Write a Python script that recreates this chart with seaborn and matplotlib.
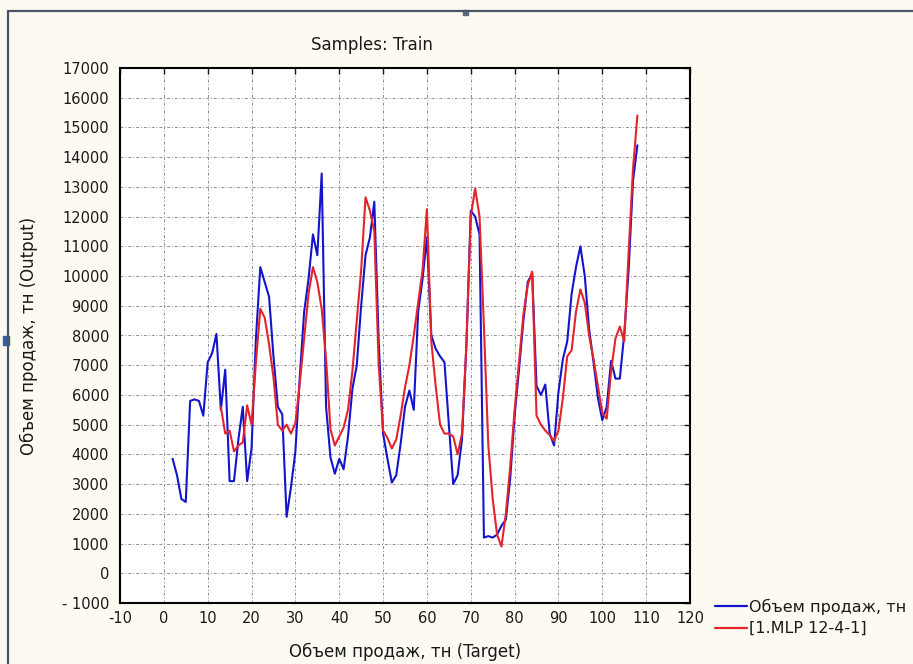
import numpy as np
import pandas as pd
import seaborn as sns
import matplotlib.pyplot as plt
from matplotlib.lines import Line2D
from matplotlib.patches import Rectangle

# Case numbers and sales volumes (tonnes)
case_target = list(range(2, 109))
target = [
    3850, 3300, 2500, 2400, 5800, 5850, 5800, 5300, 7100, 7400,
    8050, 5500, 6850, 3100, 3100, 4500, 5600, 3100, 4200, 7900,
    10300, 9800, 9300, 7300, 5600, 5350, 1900, 2900, 4100, 6600,
    8800, 9900, 11400, 10700, 13450, 5600, 3900, 3350, 3850, 3500,
    4600, 6200, 7000, 9000, 10700, 11300, 12500, 7800, 4700, 3850,
    3050, 3300, 4350, 5600, 6150, 5500, 8800, 9900, 11300, 8000,
    7550, 7300, 7100, 5000, 3000, 3300, 4500, 7650, 12200, 12000,
    11400, 1200, 1250, 1200, 1300, 1600, 1800, 3200, 5300, 6850,
    8500, 9800, 10100, 6300, 6000, 6350, 4700, 4300, 6100, 7200,
    7800, 9400, 10300, 11000, 10000, 8200, 7100, 5900, 5150, 5600,
    7150, 6550, 6550, 8050, 10200, 13200, 14400,
]

case_output = list(range(13, 109))
output = [
    5600, 4700, 4800, 4100, 4300, 4400, 5650, 5000, 7100, 8900,
    8600, 7700, 6600, 5000, 4800, 5000, 4700, 5050, 6400, 7900,
    9400, 10300, 9800, 8900, 7200, 4850, 4300, 4600, 4900, 5500,
    6800, 8500, 10200, 12650, 12200, 11500, 7000, 4800, 4550, 4200,
    4500, 5300, 6250, 7000, 8000, 9100, 10200, 12250, 7800, 6300,
    5000, 4700, 4700, 4600, 4000, 4700, 7700, 12000, 12950, 12000,
    8300, 4300, 2500, 1300, 900, 2000, 3600, 5500, 7100, 8700,
    9700, 10150, 5300, 5000, 4800, 4650, 4450, 4800, 5900, 7300,
    7500, 8800, 9550, 9100, 8000, 7200, 6300, 5400, 5200, 6800,
    7900, 8300, 7800, 10800, 13600, 15400,
]

series_names = ["Объем продаж, тн", "[1.MLP 12-4-1]"]
x_ticks = list(range(-10, 121, 10))
y_ticks = list(range(-1000, 17001, 1000))
y_tick_labels = ["- 1000"] + [str(v) for v in y_ticks[1:]]

BG = "#fdfbf1"
BLUE = "#1414cc"
RED = "#e4242a"
TXT = "#1a1a1a"

df = pd.concat([
    pd.DataFrame({"case": case_target, "value": target, "series": series_names[0]}),
    pd.DataFrame({"case": case_output, "value": output, "series": series_names[1]}),
], ignore_index=True)

sns.set_theme(style="white")
plt.rcParams["font.family"] = ["DejaVu Sans"]

W, H = 913, 664
fig = plt.figure(figsize=(W / 100, H / 100), dpi=100, facecolor=BG)
ax = fig.add_axes([120 / W, 1 - 603 / H, 570 / W, 535 / H])
ax.set_facecolor("white")

sns.lineplot(
    data=df, x="case", y="value", hue="series", hue_order=series_names,
    palette={series_names[0]: BLUE, series_names[1]: RED},
    estimator=None, sort=False, linewidth=1.5, legend=False, ax=ax,
)

ax.set_xlim(-10, 120)
ax.set_ylim(-1000, 17000)
ax.set_xticks(x_ticks)
ax.set_xticklabels([str(v) for v in x_ticks])
ax.set_yticks(y_ticks)
ax.set_yticklabels(y_tick_labels)

ax.set_axisbelow(True)
ax.grid(True, color="#8f8f8f", linestyle=(0, (3, 2, 1, 2)), linewidth=0.7)
ax.tick_params(direction="in", length=4, width=1, top=True, right=True,
               labelsize=10.5, colors=TXT, pad=8)
ax.tick_params(axis="x", pad=6)
for s in ax.spines.values():
    s.set_color("black")
    s.set_linewidth(1.5)

ax.set_xlabel("Объем продаж, тн (Target)", fontsize=12, color=TXT, va="top")
ax.xaxis.set_label_coords(0.5, -(643 - 603) / 535)
ax.set_ylabel("Объем продаж, тн (Output)", fontsize=12, color=TXT)
ax.yaxis.set_label_coords(-(120 - 38) / 570, 0.5)

fig.text(372 / W, 1 - 45 / H, "Samples: Train", ha="center", va="center",
         fontsize=12, color=TXT)

handles = [Line2D([], [], color=BLUE, lw=1.6), Line2D([], [], color=RED, lw=1.6)]
fig.legend(handles, series_names, loc="center left",
           bbox_to_anchor=(715 / W, 1 - 617.5 / H), frameon=False,
           fontsize=11.5, handlelength=2.0, handletextpad=0.15,
           labelspacing=0.4, borderpad=0, borderaxespad=0,
           labelcolor=TXT)

# window frame around the graph
fig.add_artist(Line2D([8 / W, 1], [1 - 11 / H, 1 - 11 / H], color="#4a5566", lw=1.6))
fig.add_artist(Line2D([8 / W, 8 / W], [0, 1 - 11 / H], color="#4a5566", lw=1.6))
fig.add_artist(Rectangle((3 / W, 1 - 345 / H), 6 / W, 9 / H, color="#3a5fa0",
                         transform=fig.transFigure))
fig.add_artist(Rectangle((463 / W, 1 - 15 / H), 5 / W, 5 / H, color="#5a6a80",
                         transform=fig.transFigure))

fig.savefig("out.png", dpi=100, facecolor=BG)
